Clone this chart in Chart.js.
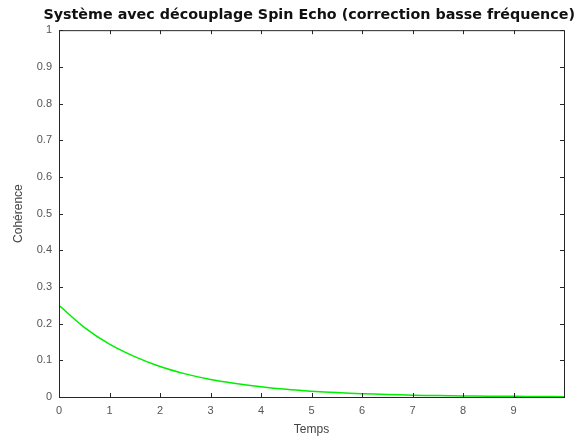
<!DOCTYPE html>
<html>
<head>
<meta charset="utf-8">
<script src="https://cdn.jsdelivr.net/npm/chart.js@4.4.1/dist/chart.umd.min.js"></script>
<style>
  html, body { margin: 0; padding: 0; background: #fff; }
  #wrap { width: 580px; height: 437px; }
</style>
</head>
<body>
<div id="wrap"><canvas id="canvas"></canvas></div>
<script>
// time samples and coherence
const temps = [0, 0.5, 1, 1.5, 2, 2.5, 3, 3.5, 4, 4.5, 5, 5.5, 6, 6.5, 7, 7.5, 8, 8.5, 9, 9.5, 10];
const coherence = [0.25, 0.19, 0.144, 0.11, 0.083, 0.063, 0.048, 0.037, 0.028, 0.021, 0.016,
  0.012, 0.009, 0.007, 0.005, 0.004, 0.003, 0.002, 0.0018, 0.0013, 0.001];
const xTicks = [0, 1, 2, 3, 4, 5, 6, 7, 8, 9];
const yTicks = [0, 0.1, 0.2, 0.3, 0.4, 0.5, 0.6, 0.7, 0.8, 0.9, 1];

const points = temps.map((t, i) => ({ x: t, y: coherence[i] }));

// box around plot + small inner ticks, like octave
const boxPlugin = {
  id: "box",
  afterDraw(chart) {
    const { ctx, chartArea: a, scales } = chart;
    ctx.save();
    ctx.strokeStyle = "#262626";
    ctx.lineWidth = 1;
    ctx.strokeRect(a.left + 0.5, a.top + 0.5, a.right - a.left, a.bottom - a.top);
    ctx.beginPath();
    xTicks.forEach(v => {
      const px = Math.round(scales.x.getPixelForValue(v)) + 0.5;
      ctx.moveTo(px, a.bottom); ctx.lineTo(px, a.bottom - 4);
      ctx.moveTo(px, a.top); ctx.lineTo(px, a.top + 4);
    });
    yTicks.forEach(v => {
      const py = Math.round(scales.y.getPixelForValue(v)) + 0.5;
      ctx.moveTo(a.left, py); ctx.lineTo(a.left + 4, py);
      ctx.moveTo(a.right, py); ctx.lineTo(a.right - 4, py);
    });
    ctx.stroke();
    ctx.restore();
  }
};

const font = "Liberation Sans, Arial, sans-serif";

const myChart = new Chart("canvas", {
  type: "line",
  data: {
    datasets: [
      {
        label: "Cohérence",
        data: points,
        borderColor: "#00ee00",
        borderWidth: 1.5,
        pointRadius: 0,
        tension: 0.4,
        fill: false,
      },
    ],
  },
  options: {
    responsive: true,
    maintainAspectRatio: false,
    animation: false,
    layout: { padding: { left: 0, right: 5, top: 0, bottom: 0 } },
    plugins: {
      legend: { display: false },
      tooltip: { enabled: false },
      title: {
        display: true,
        align: "end",
        text: "Système avec découplage Spin Echo (correction basse fréquence)",
        color: "#111",
        font: { family: "DejaVu Sans, sans-serif", size: 14.3, weight: "bold" },
        padding: { top: 7, bottom: 6 },
      },
    },
    scales: {
      x: {
        type: "linear",
        min: 0,
        max: 10,
        afterBuildTicks: s => { s.ticks = xTicks.map(v => ({ value: v })); },
        afterFit: s => { s.height = 40; },
        grid: { display: false, drawTicks: false, tickLength: 0 },
        border: { display: false },
        ticks: {
          color: "#555",
          padding: 7,
          font: { family: font, size: 11 },
        },
        title: {
          display: true,
          text: "Temps",
          color: "#444",
          padding: 0,
          font: { family: font, size: 12 },
        },
      },
      y: {
        min: 0,
        max: 1,
        afterBuildTicks: s => { s.ticks = yTicks.map(v => ({ value: v })); },
        afterFit: s => { s.width = 59; },
        grid: { display: false, drawTicks: false, tickLength: 0 },
        border: { display: false },
        ticks: {
          color: "#555",
          padding: 7,
          font: { family: font, size: 11 },
          callback: v => String(v),
        },
        title: {
          display: true,
          text: "Cohérence",
          color: "#444",
          padding: { top: 11, bottom: 0 },
          font: { family: font, size: 12 },
        },
      },
      // empty right-hand spacer so the box ends where the picture's does
      yRight: {
        position: "right",
        min: 0,
        max: 1,
        afterFit: s => { s.width = 11; },
        grid: { display: false },
        border: { display: false },
        ticks: { display: false },
      },
    },
  },
  plugins: [boxPlugin],
});
</script>
</body>
</html>
